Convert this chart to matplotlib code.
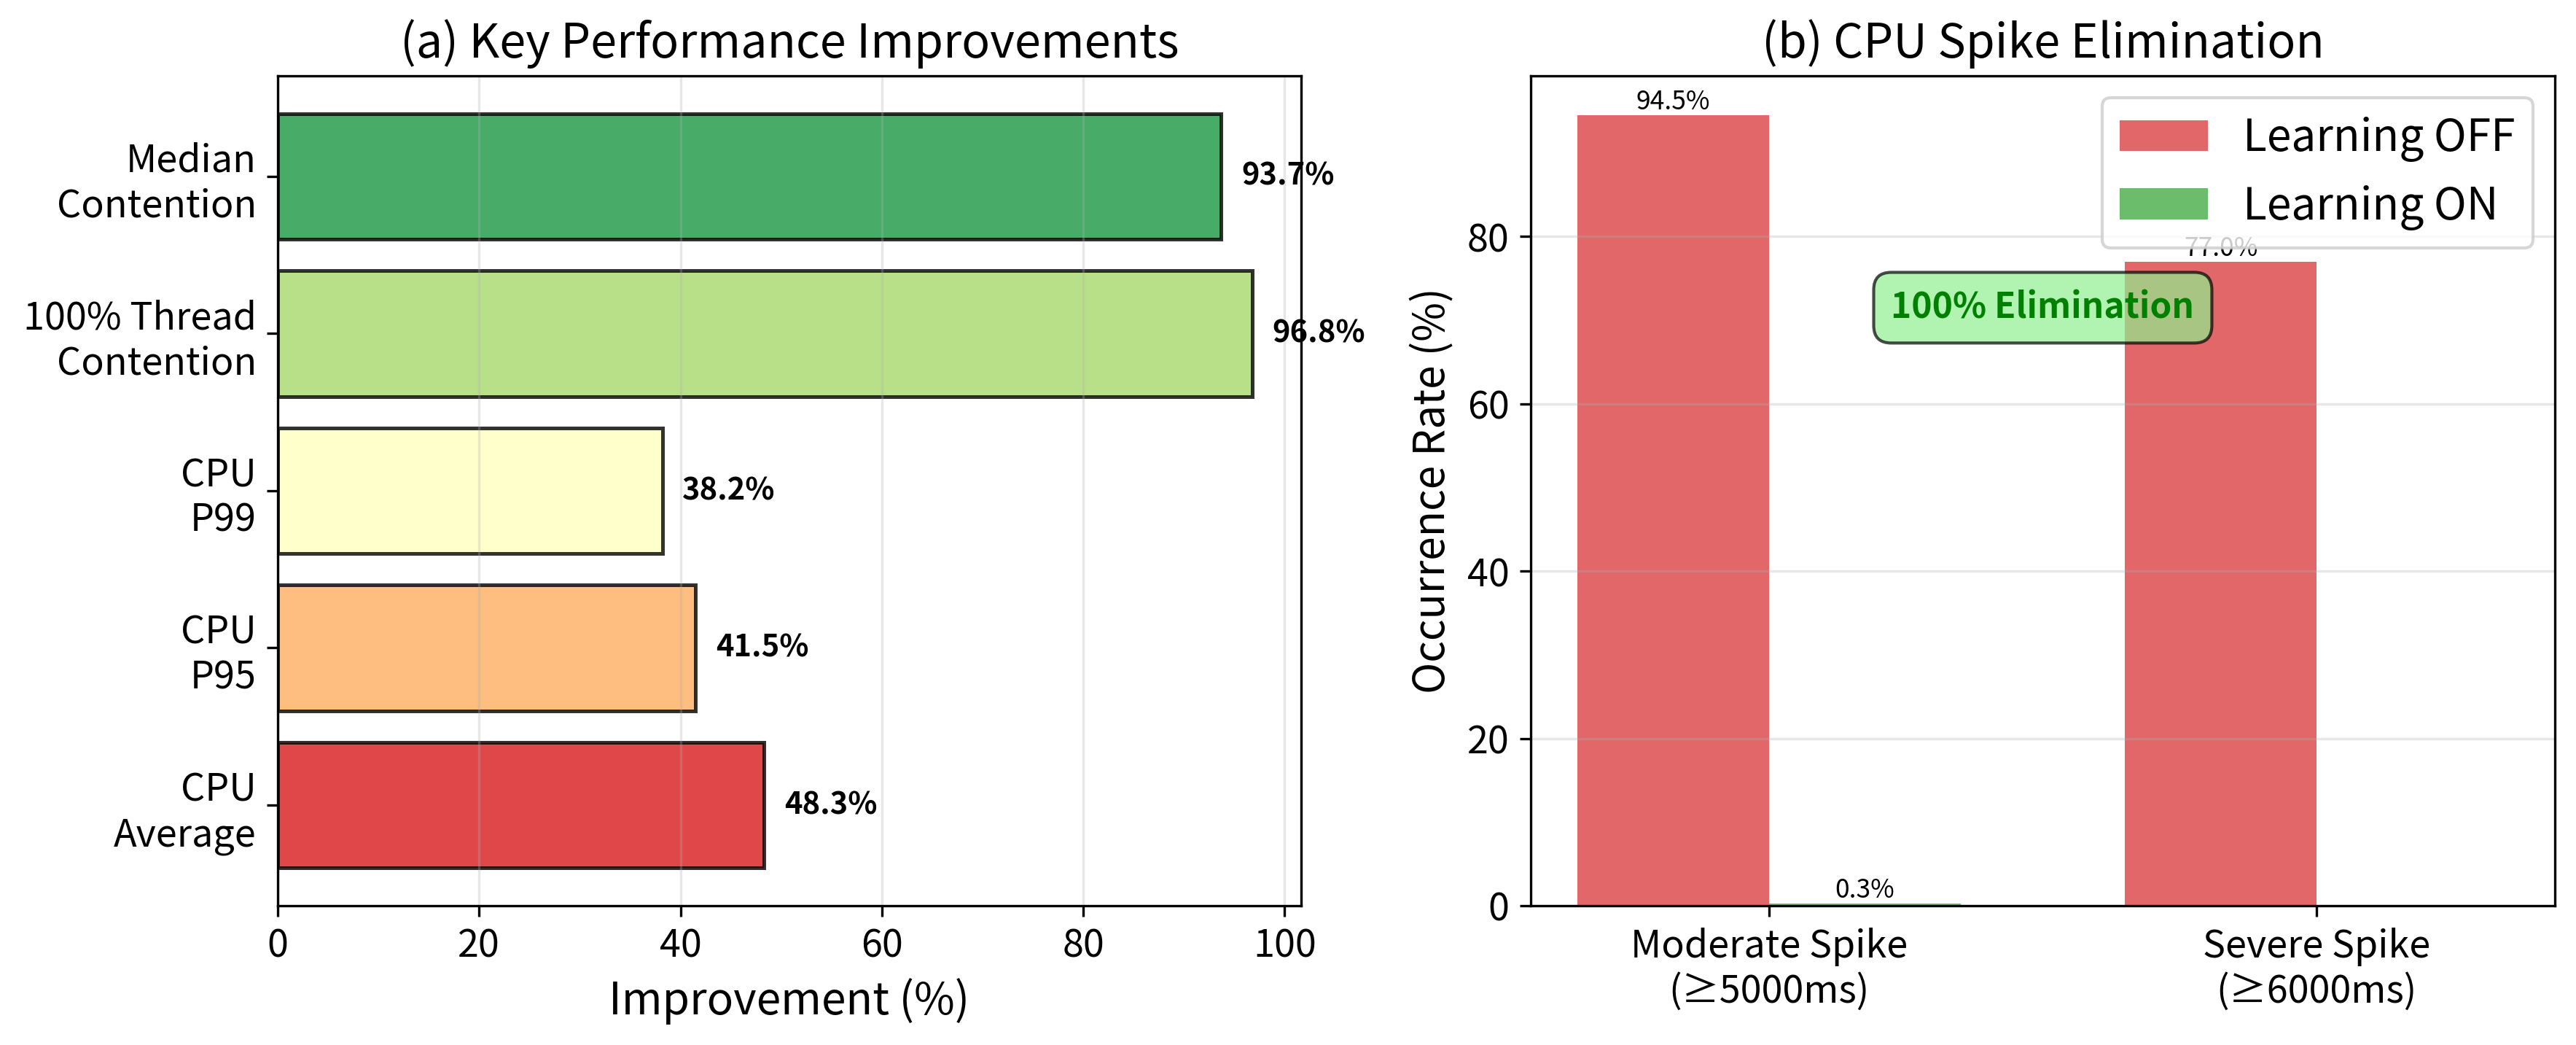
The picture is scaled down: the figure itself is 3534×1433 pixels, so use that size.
import numpy as np
import matplotlib
matplotlib.use("Agg")
import matplotlib.pyplot as plt

plt.rcParams['font.family'] = ['Noto Sans CJK KR', 'DejaVu Sans']

# (a) key improvements
metrics = ['CPU\nAverage', 'CPU\nP95', 'CPU\nP99', '100% Thread\nContention', 'Median\nContention']
improvements = [48.3, 41.5, 38.2, 96.8, 93.7]
bar_colors = ['#d7191c', '#fdae61', '#ffffbf', '#a6d96a', '#1a9641']

# (b) spike elimination
spike_types = ['Moderate Spike\n(≥5000ms)', 'Severe Spike\n(≥6000ms)']
learning_off = [94.5, 77.0]
learning_on = [0.3, 0.0]

fig = plt.figure(figsize=(11.78, 4.777), dpi=300)
ax1 = fig.add_axes([0.1078, 0.1333, 0.3973, 0.7941])
ax2 = fig.add_axes([0.5942, 0.1333, 0.3976, 0.7941])

# --- left panel
y = np.arange(len(metrics))
ax1.barh(y, improvements, height=0.8, color=bar_colors, alpha=0.8,
         edgecolor='black', linewidth=1.2)
for yi, v in zip(y, improvements):
    ax1.text(v + 2, yi, f'{v:.1f}%', va='center', ha='left',
             fontsize=10, fontweight='bold')
ax1.set_yticks(y)
ax1.set_yticklabels(metrics, fontsize=12.5)
ax1.set_xlim(0, max(improvements) * 1.05)
ax1.tick_params(axis='x', labelsize=12.5)
ax1.set_xlabel('Improvement (%)', fontsize=14.5)
ax1.set_title('(a) Key Performance Improvements', fontsize=15.5)
ax1.grid(axis='x', alpha=0.3)

# --- right panel
x = np.arange(len(spike_types))
w = 0.35
b_off = ax2.bar(x - w / 2, learning_off, w, label='Learning OFF', color='#d62728', alpha=0.7)
b_on = ax2.bar(x + w / 2, learning_on, w, label='Learning ON', color='#2ca02c', alpha=0.7)
for bars in (b_off, b_on):
    for b in bars:
        h = b.get_height()
        if h > 0:
            ax2.text(b.get_x() + b.get_width() / 2, h, f'{h:.1f}%',
                     ha='center', va='bottom', fontsize=8.5)
ax2.set_xticks(x)
ax2.set_xticklabels(spike_types, fontsize=12.5)
ax2.tick_params(axis='y', labelsize=12.5)
ax2.set_ylabel('Occurrence Rate (%)', fontsize=14)
ax2.set_title('(b) CPU Spike Elimination', fontsize=15.5)
ax2.legend(fontsize=14.5, loc='upper right')
ax2.grid(axis='y', alpha=0.3)
ax2.text(0.5, 71.5, '100% Elimination', ha='center', va='center',
         fontsize=11.5, fontweight='bold', color='green',
         bbox=dict(boxstyle='round,pad=0.5', facecolor='lightgreen',
                   edgecolor='black', alpha=0.7))

fig.savefig('out.png', dpi=300)
